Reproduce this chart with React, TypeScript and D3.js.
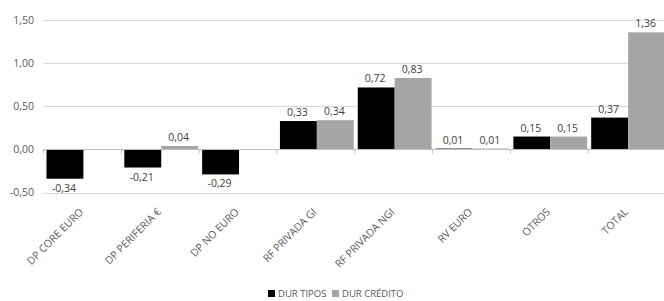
import { useEffect, useRef } from 'react';
import * as d3 from 'd3';

const categories = ['DP CORE EURO', 'DP PERIFERIA €', 'DP NO EURO', 'RF PRIVADA GI', 'RF PRIVADA NGI', 'RV EURO', 'OTROS', 'TOTAL'];
const durTipos = [-0.34, -0.21, -0.29, 0.33, 0.72, 0.01, 0.15, 0.37];
const durCredito = [null, 0.04, null, 0.34, 0.83, 0.01, 0.15, 1.36];
const yTicks = [-0.5, 0, 0.5, 1.0, 1.5];
const seriesNames = ['DUR TIPOS', 'DUR CRÉDITO'];
const colors = ['#000000', '#a5a5a5'];

const fmt = (v: number) => v.toFixed(2).replace('.', ',');

export default function App() {
  const svgRef = useRef<SVGSVGElement>(null);

  useEffect(() => {
    if (!svgRef.current) return;
    const svg = d3.select(svgRef.current);
    svg.selectAll('*').remove();

    const font = "'Open Sans', sans-serif";
    const left = 43.5;
    const right = 666;

    const x0 = d3.scaleBand().domain(categories).range([left, right]).paddingInner(0).paddingOuter(0);
    const x1 = d3.scaleBand().domain(seriesNames).range([3, x0.bandwidth() - 1]).padding(0);
    const y = d3.scaleLinear().domain([-0.5, 1.5]).range([192.5, 20.3]);

    // grid
    svg.append('g')
      .selectAll('line')
      .data(yTicks.filter(t => t !== 0))
      .enter()
      .append('line')
      .attr('x1', left).attr('x2', right)
      .attr('y1', d => Math.round(y(d)) + 0.5).attr('y2', d => Math.round(y(d)) + 0.5)
      .attr('stroke', '#d9d9d9');

    // y labels
    svg.append('g')
      .selectAll('text')
      .data(yTicks)
      .enter()
      .append('text')
      .attr('x', 34)
      .attr('y', d => y(d))
      .attr('dy', '0.35em')
      .attr('text-anchor', 'end')
      .attr('font-family', font)
      .attr('font-size', 10.5)
      .attr('fill', '#595959')
      .text(d => fmt(d));

    const series = [durTipos, durCredito];
    series.forEach((vals, si) => {
      const g = svg.append('g');
      categories.forEach((c, i) => {
        const v = vals[i];
        if (v === null || v === undefined) return;
        const bx = (x0(c) as number) + (x1(seriesNames[si]) as number);
        const bw = x1.bandwidth();
        const y0 = y(0);
        const yv = y(v);
        g.append('rect')
          .attr('x', bx)
          .attr('y', Math.min(y0, yv))
          .attr('width', bw)
          .attr('height', Math.max(1, Math.abs(yv - y0)))
          .attr('fill', colors[si]);
        g.append('text')
          .attr('x', bx + bw / 2 - 1)
          .attr('y', v >= 0 ? yv - 5 : yv + 13)
          .attr('text-anchor', 'middle')
          .attr('font-family', font)
          .attr('font-size', 10.5)
          .attr('fill', '#404040')
          .text(fmt(v));
      });
    });

    // zero axis
    const zy = Math.round(y(0)) + 0.5;
    svg.append('line')
      .attr('x1', left).attr('x2', right)
      .attr('y1', zy).attr('y2', zy)
      .attr('stroke', '#bfbfbf');
    svg.append('g')
      .selectAll('line')
      .data(d3.range(categories.length + 1))
      .enter()
      .append('line')
      .attr('x1', i => left + i * x0.bandwidth())
      .attr('x2', i => left + i * x0.bandwidth())
      .attr('y1', zy).attr('y2', zy + 4)
      .attr('stroke', '#bfbfbf');

    // category labels
    svg.append('g')
      .selectAll('text')
      .data(categories)
      .enter()
      .append('text')
      .attr('transform', d => `translate(${(x0(d) as number) + x0.bandwidth() / 2 - 1},${210}) rotate(-45)`)
      .attr('text-anchor', 'end')
      .attr('dy', '0.35em')
      .attr('font-family', font)
      .attr('font-size', 10.5)
      .attr('fill', '#595959')
      .text(d => d);

    // legend
    const legend = svg.append('g').attr('transform', 'translate(268,297)');
    const offsets = [0, 64];
    seriesNames.forEach((name, i) => {
      legend.append('rect')
        .attr('x', offsets[i]).attr('y', -7)
        .attr('width', 7).attr('height', 7)
        .attr('fill', colors[i]);
      legend.append('text')
        .attr('x', offsets[i] + 10).attr('y', 0)
        .attr('font-family', font)
        .attr('font-size', 9.5)
        .attr('fill', '#595959')
        .text(name);
    });
  }, []);

  return (
    <svg ref={svgRef} width={664} height={301}
      style={{ position: 'absolute', left: 0, top: 0, background: '#fff' }} />
  );
}
